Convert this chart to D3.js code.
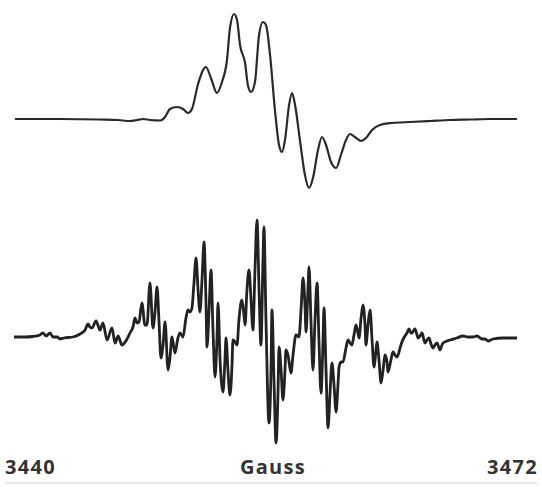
<!DOCTYPE html>
<html>
<head>
<meta charset="utf-8">
<script src="https://cdn.jsdelivr.net/npm/d3@7"></script>
<style>
  html, body { margin: 0; padding: 0; background: #fff; }
  svg { display: block; }
</style>
</head>
<body>
<svg id="chart" width="542" height="487"></svg>
<script>
// Field sweep (Gauss) and axis labels
const fieldRange = [3440, 3472];
const axisLabels = ["3440", "Gauss", "3472"];

// Upper spectrum: field (G) and derivative intensity (arb. units)
const topField = [3440.06,3442.93,3445.47,3446.62,3447.38,3447.83,3448.21,3448.65,3449.29,3449.61,3449.92,3450.37,3450.75,3451.07,3451.32,3451.71,3452.21,3452.53,3452.91,3453.23,3453.55,3453.74,3454.00,3454.19,3454.38,3454.70,3454.89,3455.08,3455.33,3455.59,3455.84,3456.03,3456.29,3456.60,3456.86,3457.05,3457.24,3457.50,3457.69,3457.88,3458.19,3458.51,3458.77,3459.02,3459.34,3459.59,3459.85,3460.17,3460.49,3460.80,3461.12,3461.38,3461.69,3462.08,3462.39,3462.78,3463.28,3464.05,3465.19,3466.47,3467.74,3469.01,3470.28,3472.00];
const topSignal = [0,0,-0.5,-1,-2,-1,0,-1,-1.5,2,10,12,10,6,10,35,52,41,26,37,59,91,105,99,74,56,33,27,37,84,97,94,64,9,-26,-33,-21,14,26,14,-21,-56,-69,-59,-31,-18,-26,-43,-49,-36,-21,-15,-18,-22,-19,-11,-6,-4,-3,-2,-1,-0.5,0,0];

// Lower spectrum: field (G) and derivative intensity (arb. units)
const bottomField = [3440.00,3440.70,3441.21,3441.65,3441.84,3442.04,3442.29,3442.48,3442.74,3442.93,3443.18,3443.75,3444.20,3444.52,3444.71,3444.83,3444.96,3445.22,3445.47,3445.66,3445.92,3446.23,3446.43,3446.62,3446.87,3447.19,3447.38,3447.57,3447.70,3447.83,3447.95,3448.14,3448.33,3448.46,3448.65,3448.84,3448.97,3449.10,3449.22,3449.35,3449.48,3449.61,3449.80,3449.92,3450.05,3450.24,3450.43,3450.56,3450.75,3450.94,3451.07,3451.20,3451.32,3451.45,3451.58,3451.71,3451.83,3451.96,3452.09,3452.21,3452.28,3452.41,3452.53,3452.66,3452.79,3452.91,3452.98,3453.11,3453.30,3453.42,3453.49,3453.61,3453.74,3453.87,3453.93,3454.06,3454.19,3454.31,3454.50,3454.63,3454.70,3454.82,3454.95,3455.08,3455.20,3455.33,3455.46,3455.59,3455.71,3455.84,3455.90,3456.03,3456.22,3456.35,3456.41,3456.54,3456.67,3456.80,3456.86,3456.99,3457.11,3457.24,3457.30,3457.43,3457.62,3457.75,3457.94,3458.13,3458.26,3458.39,3458.51,3458.58,3458.70,3458.77,3458.89,3459.02,3459.15,3459.28,3459.40,3459.53,3459.66,3459.72,3459.85,3459.98,3460.10,3460.23,3460.36,3460.49,3460.61,3460.68,3460.80,3460.93,3461.12,3461.25,3461.38,3461.50,3461.63,3461.76,3461.88,3461.95,3462.08,3462.20,3462.33,3462.39,3462.52,3462.65,3462.78,3462.90,3463.03,3463.09,3463.22,3463.35,3463.48,3463.60,3463.73,3463.79,3463.98,3464.11,3464.24,3464.37,3464.56,3464.68,3464.87,3465.00,3465.13,3465.26,3465.32,3465.45,3465.51,3465.64,3465.70,3465.83,3465.96,3466.08,3466.15,3466.27,3466.40,3466.53,3466.66,3466.78,3466.91,3467.04,3467.10,3467.23,3467.29,3467.74,3468.18,3468.56,3468.88,3469.20,3469.46,3469.77,3469.96,3470.16,3470.47,3471.11,3472.00];
const bottomSignal = [0,0,0.5,2,4,1,4,0,0,-2,-1,0,3,7,13,10,9,16,7,14,-3,9,-6,1,-8,-2,4,10,19,14,15,34,12,12,54,9,25,50,17,-21,-8,15,-33,-21,0,-16,-1,4,0,19,27,25,29,54,79,47,25,57,95,37,-10,27,67,7,-40,-3,34,-23,-55,-23,-1,-33,-58,-28,-3,-5,-8,17,37,22,12,47,67,37,7,67,117,47,-8,77,110,17,-86,-33,27,-43,-106,-53,-10,-33,-63,-33,-13,-18,-36,-18,2,0,27,59,32,5,47,70,17,-33,17,54,-3,-56,-3,29,-33,-91,-58,-26,-48,-75,-48,-30,-25,-25,-11,-3,-6,-8,2,12,4,-1,19,32,12,-8,12,27,-3,-30,-13,-5,-23,-46,-33,-18,-25,-35,-23,-15,-18,-20,-11,-5,1,4,8,4,4,7,8,2,-1,1,4,-3,-6,-3,-1,-7,-11,-8,-6,-11,-13,-8,-6,-3,-1,1,0,0,1,-2,-2,-4,-2,-1,-1];

const svg = d3.select("#chart");
const x = d3.scaleLinear().domain(fieldRange).range([14, 517]);
const yTop = d3.scaleLinear().domain([-69, 105]).range([188, 14]);
const yBottom = d3.scaleLinear().domain([-106, 117]).range([443, 220]);

const topData = topField.map((f, i) => ({f, v: topSignal[i]}));
const bottomData = bottomField.map((f, i) => ({f, v: bottomSignal[i]}));

const lineTop = d3.line().x(d => x(d.f)).y(d => yTop(d.v)).curve(d3.curveMonotoneX);
const lineBottom = d3.line().x(d => x(d.f)).y(d => yBottom(d.v)).curve(d3.curveMonotoneX);

svg.append("path").datum(topData)
  .attr("d", lineTop).attr("fill", "none")
  .attr("stroke", "#2a2a2a").attr("stroke-width", 2.2).attr("stroke-linejoin", "round");

svg.append("path").datum(bottomData)
  .attr("d", lineBottom).attr("fill", "none")
  .attr("stroke", "#222").attr("stroke-width", 2.8).attr("stroke-linejoin", "round");

// Bottom rule
svg.append("line").attr("x1", 5).attr("x2", 537).attr("y1", 483).attr("y2", 483)
  .attr("stroke", "#cfcfcf").attr("stroke-width", 1);

const labelY = 474;
const font = "'Open Sans', 'DejaVu Sans', sans-serif";
function label(xPos, anchor, txt) {
  svg.append("text").attr("x", xPos).attr("y", labelY).attr("text-anchor", anchor)
    .attr("font-family", font).attr("font-weight", 700).attr("font-size", 20)
    .attr("letter-spacing", 1.3).attr("fill", "#333").text(txt);
}
label(5, "start", axisLabels[0]);
label(273, "middle", axisLabels[1]);
label(538, "end", axisLabels[2]);
</script>
</body>
</html>
